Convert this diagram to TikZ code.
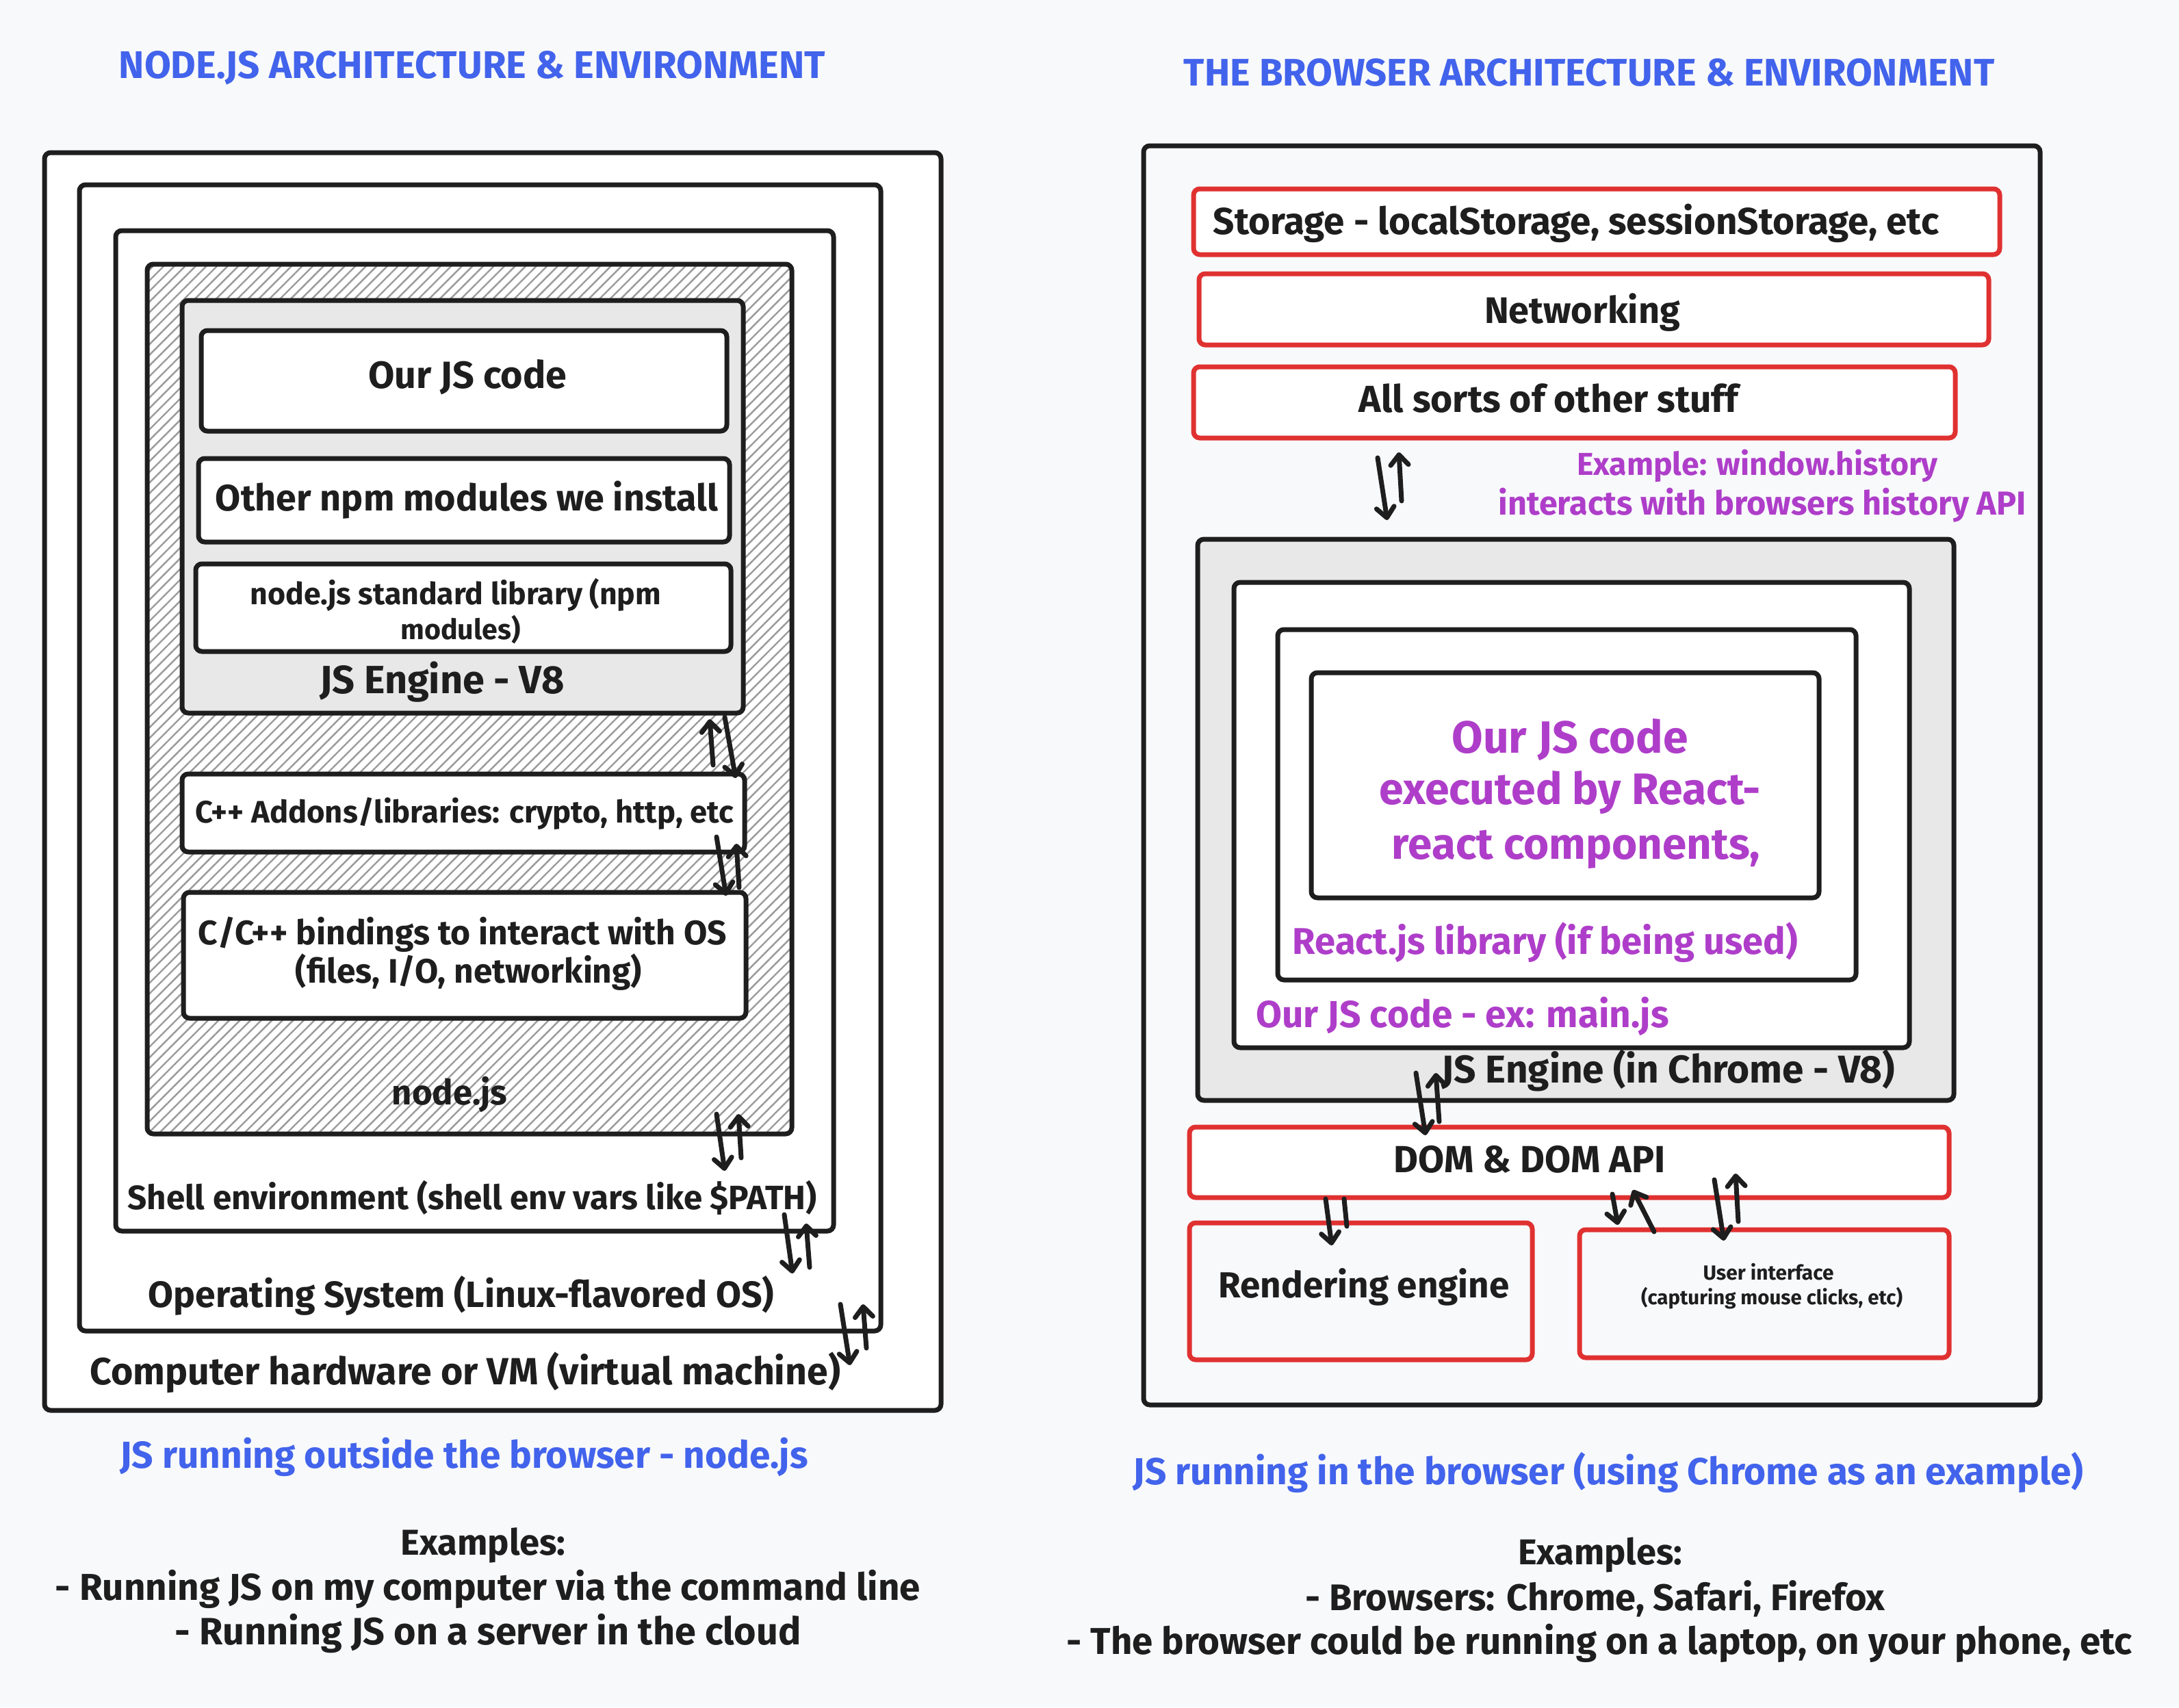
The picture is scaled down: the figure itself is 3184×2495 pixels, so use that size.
\documentclass[tikz,border=0pt]{standalone}
\usepackage{fontspec}
\setmainfont{Fira Sans}
\usetikzlibrary{arrows.meta,patterns.meta,fit}
\definecolor{ink}{HTML}{1E1E1E}
\definecolor{bg}{HTML}{F8F9FB}
\definecolor{boxred}{HTML}{E03131}
\definecolor{purp}{HTML}{AE3EC9}
\definecolor{blue1}{HTML}{4263EB}
\definecolor{grayfill}{HTML}{E8E8E8}
\definecolor{hatch}{HTML}{9A9A9A}
\newcommand{\tw}[2]{\resizebox{#1pt}{!}{\bfseries\vphantom{(}#2}}
\begin{document}
\begin{tikzpicture}[x=1pt,y=-1pt,
  box/.style={draw=ink, line width=7pt, rounded corners=9pt, inner sep=0pt, fill=white},
  grbox/.style={box, fill=grayfill},
  hbox/.style={draw=ink, line width=7pt, rounded corners=9pt, inner sep=0pt,
     preaction={fill=white}, pattern={Lines[angle=45,distance=11pt,line width=2.4pt]}, pattern color=hatch},
  rbox/.style={draw=boxred, line width=7pt, rounded corners=9pt, inner sep=0pt},
  wrbox/.style={rbox, fill=white},
  lbl/.style={inner sep=0pt, text=ink},
  arr/.style={draw=ink, line width=7pt, line cap=round, -{Straight Barb[length=15pt,width=26pt,round]}},
  ln/.style={draw=ink, line width=7pt, line cap=round}]
\useasboundingbox (0,0) rectangle (3184,2495);
\fill[bg] (0,0) rectangle (3184,2495);

% ---------- left: node.js ----------
\node[box, fit={(65,223) (1375,2061)}] (hw) {};
\node[box, fit={(116,270) (1287,1945)}] (os) {};
\node[box, fit={(169,337) (1218,1799)}] (shell) {};
\node[hbox, fit={(215,386) (1157,1657)}] (nodejs) {};
\node[grbox, fit={(266,439) (1086,1042)}] (jse) {};
\node[box, fit={(294,483) (1062,630)}] (ourjs) {};
\node[box, fit={(290,670) (1066,792)}] (npm) {};
\node[box, fit={(286,824) (1068,952)}] (stdlib) {};
\node[box, fit={(266,1131) (1088,1245)}] (addons) {};
\node[box, fit={(268,1304) (1090,1488)}] (bind) {};

\node[lbl, text=blue1] (tl) at (690,95) {\tw{1032}{NODE.JS ARCHITECTURE \& ENVIRONMENT}};
\node[lbl] (t_ourjs) at (683,548) {\tw{290}{Our JS code}};
\node[lbl] (t_npm) at (682,729) {\tw{734}{Other npm modules we install}};
\node[lbl] (t_std1) at (666,869) {\tw{600}{node.js standard library (npm}};
\node[lbl] (t_std2) at (673,920) {\tw{175}{modules)}};
\node[lbl] (t_jse) at (646,995) {\tw{357}{JS Engine - V8}};
\node[lbl] (t_add) at (679,1188) {\tw{786}{C++ Addons/libraries: crypto, http, etc}};
\node[lbl] (t_b1) at (676,1365) {\tw{772}{C/C++ bindings to interact with OS}};
\node[lbl] (t_b2) at (685,1421) {\tw{506}{(files, I/O, networking)}};
\node[lbl] (t_node) at (657,1598) {\tw{168}{node.js}};
\node[lbl] (t_shell) at (690,1750) {\tw{1007}{Shell environment (shell env vars like \$PATH)}};
\node[lbl] (t_os) at (674,1893) {\tw{914}{Operating System (Linux-flavored OS)}};
\node[lbl] (t_hw) at (680,2006) {\tw{1096}{Computer hardware or VM (virtual machine)}};
\node[lbl, text=blue1] (t_capL) at (678,2128) {\tw{1005}{JS running outside the browser - node.js}};
\node[lbl] (t_exL) at (706,2256) {\tw{241}{Examples:}};
\node[lbl] (t_exL1) at (713,2321) {\tw{1264}{- Running JS on my computer via the command line}};
\node[lbl] (t_exL2) at (713,2386) {\tw{915}{- Running JS on a server in the cloud}};

\coordinate (la1s) at (1042,1118); \coordinate (la1e) at (1037,1051);
\coordinate (la2s) at (1059,1048); \coordinate (la2e) at (1075,1137);
\coordinate (la3s) at (1047,1223); \coordinate (la3e) at (1061,1309);
\coordinate (la4s) at (1080,1297); \coordinate (la4e) at (1076,1233);
\coordinate (la5s) at (1047,1628); \coordinate (la5e) at (1059,1711);
\coordinate (la6s) at (1083,1692); \coordinate (la6e) at (1079,1628);
\coordinate (la7s) at (1146,1775); \coordinate (la7e) at (1158,1861);
\coordinate (la8s) at (1183,1852); \coordinate (la8e) at (1178,1788);
\coordinate (la9s) at (1228,1906); \coordinate (la9e) at (1242,1995);
\coordinate (la10s) at (1266,1970); \coordinate (la10e) at (1261,1906);
\foreach \i in {1,...,10} { \draw[arr] (la\i s) -- (la\i e); }

% ---------- right: browser ----------
\node[rbox, draw=ink, fit={(1671,213) (2981,2053)}] (browser) {};
\node[wrbox, fit={(1744,276) (2922,372)}] (storage) {};
\node[wrbox, fit={(1752,400) (2906,504)}] (net) {};
\node[wrbox, fit={(1744,536) (2857,640)}] (other) {};
\node[grbox, fit={(1750,788) (2855,1608)}] (jse2) {};
\node[box, fit={(1803,851) (2790,1531)}] (code2) {};
\node[box, fit={(1867,920) (2712,1432)}] (react) {};
\node[box, fit={(1916,983) (2658,1312)}] (inner) {};
\node[wrbox, fit={(1738,1647) (2848,1750)}] (dom) {};
\node[rbox, fit={(1738,1787) (2239,1987)}] (rend) {};
\node[rbox, fit={(2308,1797) (2848,1984)}] (ui) {};

\node[lbl, text=blue1] (tr) at (2322,106) {\tw{1184}{THE BROWSER ARCHITECTURE \& ENVIRONMENT}};
\node[lbl] (t_sto) at (2303,325) {\tw{1060}{Storage - localStorage, sessionStorage, etc}};
\node[lbl] (t_net) at (2312,455) {\tw{286}{Networking}};
\node[lbl] (t_oth) at (2263,583) {\tw{554}{All sorts of other stuff}};
\node[lbl, text=purp] (t_ex1) at (2568,680) {\tw{527}{Example: window.history}};
\node[lbl, text=purp] (t_ex2) at (2575,737) {\tw{771}{interacts with browsers history API}};
\node[lbl, text=purp] (t_c1) at (2294,1078) {\tw{345}{Our JS code}};
\node[lbl, text=purp] (t_c2) at (2294,1155) {\tw{557}{executed by React-}};
\node[lbl, text=purp] (t_c3) at (2303,1235) {\tw{538}{react components,}};
\node[lbl, text=purp] (t_rl) at (2258,1377) {\tw{738}{React.js library (if being used)}};
\node[lbl, text=purp] (t_mj) at (2137,1484) {\tw{603}{Our JS code - ex: main.js}};
\node[lbl] (t_jse2) at (2438,1564) {\tw{662}{JS Engine (in Chrome - V8)}};
\node[lbl] (t_dom) at (2235,1694) {\tw{397}{DOM \& DOM API}};
\node[lbl] (t_ren) at (1993,1880) {\tw{425}{Rendering engine}};
\node[lbl] (t_ui1) at (2584,1860) {\tw{191}{User interface}};
\node[lbl] (t_ui2) at (2589,1897) {\tw{382}{(capturing mouse clicks, etc)}};
\node[lbl, text=blue1] (t_capR) at (2350,2152) {\tw{1388}{JS running in the browser (using Chrome as an example)}};
\node[lbl] (t_exR) at (2338,2270) {\tw{240}{Examples:}};
\node[lbl] (t_exR1) at (2331,2335) {\tw{847}{- Browsers: Chrome, Safari, Firefox}};
\node[lbl] (t_exR2) at (2337,2400) {\tw{1557}{- The browser could be running on a laptop, on your phone, etc}};

\coordinate (ra1s) at (2013,669); \coordinate (ra1e) at (2027,760);
\coordinate (ra2s) at (2048,732); \coordinate (ra2e) at (2044,661);
\coordinate (ra3s) at (2069,1568); \coordinate (ra3e) at (2083,1659);
\coordinate (ra4s) at (2103,1639); \coordinate (ra4e) at (2098,1568);
\coordinate (ra5s) at (1937,1752); \coordinate (ra5e) at (1946,1820);
\coordinate (ra7s) at (2356,1745); \coordinate (ra7e) at (2364,1790);
\coordinate (ra8s) at (2417,1800); \coordinate (ra8e) at (2386,1739);
\coordinate (ra9s) at (2505,1724); \coordinate (ra9e) at (2519,1813);
\coordinate (ra10s) at (2540,1785); \coordinate (ra10e) at (2536,1715);
\coordinate (rl6s) at (1968,1792); \coordinate (rl6e) at (1964,1752);
\foreach \i in {1,2,3,4,5,7,8,9,10} { \draw[arr] (ra\i s) -- (ra\i e); }
\draw[ln] (rl6s) -- (rl6e);
\end{tikzpicture}
\end{document}
